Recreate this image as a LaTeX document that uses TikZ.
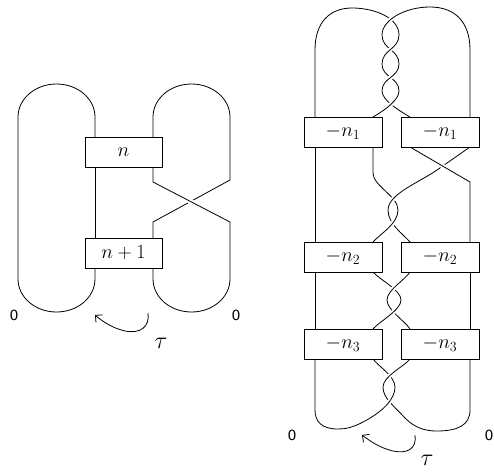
\RequirePackage{fix-cm}
\documentclass[tikz,border=0pt]{standalone}
\usepackage{fontspec}
\newfontfamily\zerofam{DejaVu Sans}
\usetikzlibrary{arrows.meta}
\tikzset{
  strand/.style={line width=0.8pt},
  over/.style={strand, preaction={draw=white, line width=4.5pt}},
  boxnode/.style={draw, fill=white, line width=0.8pt, minimum height=30pt, inner sep=0pt, font=\fontsize{20}{24}\selectfont},
  lbox/.style={boxnode, minimum width=77pt},
  rbox/.style={boxnode, minimum width=78pt},
  zerolab/.style={font=\zerofam\fontsize{14}{17}\selectfont, inner sep=0pt},
  taulab/.style={font=\fontsize{24}{28}\selectfont, inner sep=0pt},
  turn/.style={line width=0.8pt, -{Straight Barb[length=5pt,width=10pt]}}
}
\begin{document}
\begin{tikzpicture}[x=1pt,y=-1pt]
\useasboundingbox (0,0) rectangle (494,474);
% ---------------- left figure ----------------
% left loop
\draw[strand] (95,137) -- (95,117) .. controls (95,98.8) and (77.8,84) .. (56.5,84)
  .. controls (35.2,84) and (18,98.8) .. (18,117) -- (18,279)
  .. controls (18,297.2) and (35.2,312) .. (56.5,312)
  .. controls (77.8,312) and (95,297.2) .. (95,279) -- (95,268);
\draw[strand] (95,167) -- (95,238);
% right loop, under part
\draw[strand] (153,137) -- (153,117) .. controls (153,98.8) and (170.2,84) .. (191.5,84)
  .. controls (212.8,84) and (230,98.8) .. (230,117) -- (230,180) -- (153,222) -- (153,238);
% right loop, over part
\draw[over] (153,167) -- (153,182) -- (230,222) -- (230,279)
  .. controls (230,297.2) and (212.8,312) .. (191.5,312)
  .. controls (170.2,312) and (153,297.2) .. (153,279) -- (153,268);
\node[lbox] (bn) at (123.5,152) {$n$};
\node[lbox] (bn1) at (123.5,253) {$n+1$};
\node[zerolab] (zl1) at (14,315) {0};
\node[zerolab] (zl2) at (236,315) {0};
\draw[turn] (148,313) .. controls (150,327) and (140,334) .. (125,331)
  .. controls (112,328) and (102,321) .. (95,315);
\node[taulab] (tl) at (161,343) {$\tau$};
% ---------------- right figure ----------------
% under pieces
\draw[strand] (315,117) -- (315,50) .. controls (315,22) and (330,8) .. (352,8)
  .. controls (375,8) and (399,18) .. (399,35);
\draw[strand] (382,35) .. controls (382,49.5) and (399,49.5) .. (399,64);
\draw[strand] (382,64) .. controls (382,77.5) and (399,77.5) .. (399,91);
\draw[strand] (382,91) .. controls (382,100) and (398,110) .. (410,117);
\draw[strand] (470,147) -- (437,170);
\draw[strand] (373,147) -- (373,173) .. controls (373,186) and (398,196) .. (398,210);
\draw[strand] (388,210) .. controls (388,224) and (403,234) .. (410,242);
\draw[strand] (315,147) -- (315,242);
\draw[strand] (373,272) .. controls (380,280) and (401,290) .. (401,300);
\draw[strand] (387,300) .. controls (387,310) and (405,321) .. (410,329);
\draw[strand] (315,272) -- (315,329);
\draw[strand] (470,272) -- (470,329);
\draw[strand] (373,359) .. controls (378,366) and (395,376) .. (395,387);
\draw[strand] (383,387) .. controls (383,398) and (393,405) .. (405,418)
  .. controls (415,428) and (425,431) .. (437,431)
  .. controls (458,431) and (470,425) .. (470,410) -- (470,359);
% over pieces
\draw[over] (470,117) -- (470,50) .. controls (470,22) and (455,7) .. (430,7)
  .. controls (405,7) and (382,20) .. (382,35);
\draw[over] (399,35) .. controls (399,49.5) and (382,49.5) .. (382,64);
\draw[over] (399,64) .. controls (399,77.5) and (382,77.5) .. (382,91);
\draw[over] (399,91) .. controls (399,100) and (385,110) .. (373,117);
\draw[over] (410,147) -- (470,182) -- (470,242);
\draw[over] (437,170) .. controls (420,182) and (388,194) .. (388,210);
\draw[over] (398,210) .. controls (398,224) and (380,234) .. (373,242);
\draw[over] (410,272) .. controls (405,280) and (387,290) .. (387,300);
\draw[over] (401,300) .. controls (401,310) and (380,321) .. (373,329);
\draw[over] (410,359) .. controls (405,366) and (383,376) .. (383,387);
\draw[over] (395,387) .. controls (395,398) and (385,410) .. (365,421)
  .. controls (352,428) and (345,429) .. (338,429)
  .. controls (322,429) and (315,422) .. (315,410) -- (315,359);
% boxes
\node[rbox] (a1) at (343,132) {$-n_1$};
\node[rbox] (b1) at (440,132) {$-n_1$};
\node[rbox] (a2) at (343,257) {$-n_2$};
\node[rbox] (b2) at (440,257) {$-n_2$};
\node[rbox] (a3) at (343,344) {$-n_3$};
\node[rbox] (b3) at (440,344) {$-n_3$};
\node[zerolab] (zr1) at (292,435) {0};
\node[zerolab] (zr2) at (489,435) {0};
\draw[turn] (415,435) .. controls (417,449) and (407,454) .. (393,451)
  .. controls (380,448) and (370,441) .. (362,435);
\node[taulab] (tr) at (427,460) {$\tau$};
\end{tikzpicture}
\end{document}
